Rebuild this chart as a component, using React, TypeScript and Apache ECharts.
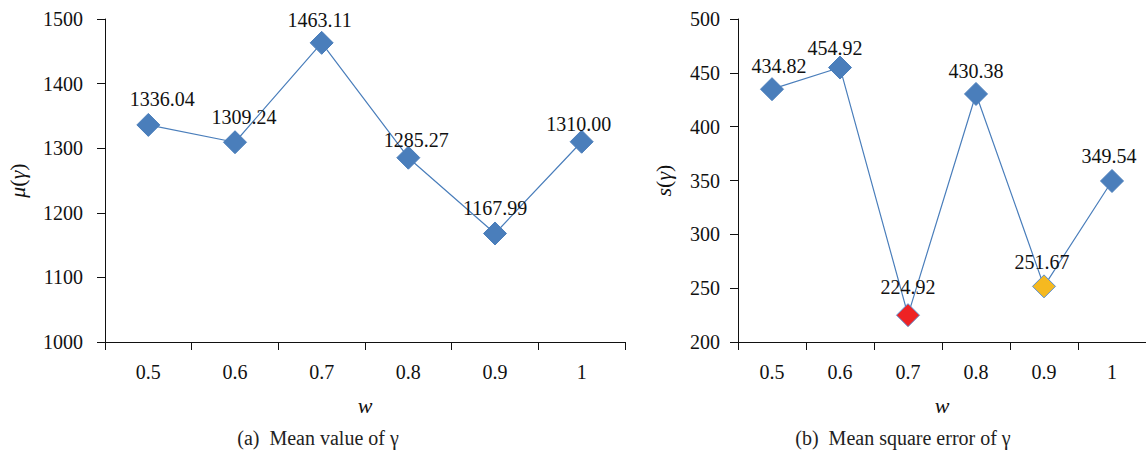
import React, { useEffect, useRef } from "react";
import * as echarts from "echarts";

const categories = ["0.5", "0.6", "0.7", "0.8", "0.9", "1"];
const meanValues = [1336.04, 1309.24, 1463.11, 1285.27, 1167.99, 1310.0];
const mseValues = [434.82, 454.92, 224.92, 430.38, 251.67, 349.54];
const meanTicks = { min: 1000, max: 1500, interval: 100 };
const mseTicks = { min: 200, max: 500, interval: 50 };

// styling: label nudges (dx, height above marker centre) and special marker colours
const meanLabelDx = [14, 9, -2, 8, 0, -3];
const meanLabelUp = [25, 25, 22, 17, 25, 17];
const mseLabelDx = [7, -5, 0, 0, -2, -3];
const mseLabelUp = [23, 19, 28, 22, 24, 24];
const mseColors = ["#4a7ebb", "#4a7ebb", "#ee2224", "#4a7ebb", "#f5b920", "#4a7ebb"];

const FONT = "'Liberation Serif', 'DejaVu Serif', serif";
const BLUE = "#4a7ebb";
const SYM = 23;
const FS = 20;

function buildData(values: number[], dx: number[], up: number[], colors?: string[]) {
  return values.map((v, i) => ({
    value: v,
    itemStyle: {
      color: colors ? colors[i] : BLUE,
      borderColor: colors && colors[i] !== BLUE ? "#5b8fd0" : BLUE,
      borderWidth: 1,
    },
    label: { offset: [dx[i], -(up[i] - 21.5)] },
  }));
}

export default function App() {
  const ref = useRef<HTMLDivElement>(null);
  useEffect(() => {
    if (!ref.current) return;
    const chart = echarts.init(ref.current, null, { renderer: "svg" });
    const axisCommon = {
      axisLine: { show: true, lineStyle: { color: "#111", width: 1 } },
      axisTick: { show: true, length: 8, lineStyle: { color: "#111" } },
      splitLine: { show: false },
    };
    const xAxisCfg = (gridIndex: number) => ({
      type: "category",
      gridIndex,
      data: categories,
      boundaryGap: true,
      ...axisCommon,
      axisLabel: { color: "#111", fontFamily: FONT, fontSize: FS, margin: 20 },
      name: "w",
      nameLocation: "middle",
      nameGap: 52,
      nameTextStyle: { color: "#111", fontFamily: FONT, fontSize: 22, fontStyle: "italic" },
    });
    const yName = (sym: string) => `{i|${sym}}{n|(}{i|γ}{n|)}`;
    const yAxisCfg = (gridIndex: number, t: any, name: string, gap: number, margin: number) => ({
      type: "value",
      gridIndex,
      min: t.min,
      max: t.max,
      interval: t.interval,
      ...axisCommon,
      axisLabel: {
        color: "#111",
        fontFamily: FONT,
        fontSize: FS,
        margin,
        formatter: (v: number) => String(v),
      },
      name,
      nameLocation: "middle",
      nameRotate: 90,
      nameGap: gap,
      nameTextStyle: {
        color: "#111",
        fontFamily: FONT,
        fontSize: 22,
        rich: {
          i: { fontStyle: "italic", fontFamily: FONT, fontSize: 22, color: "#111" },
          n: { fontFamily: FONT, fontSize: 22, color: "#111" },
        },
      },
    });
    const seriesCommon = {
      type: "line",
      symbol: "diamond",
      symbolSize: SYM,
      lineStyle: { color: BLUE, width: 1.2 },
      label: {
        show: true,
        position: "top",
        distance: 0,
        color: "#111",
        fontFamily: FONT,
        fontSize: FS,
        lineHeight: 20,
        formatter: (p: any) => Number(p.value).toFixed(2),
      },
      z: 3,
    };
    chart.setOption({
      animation: false,
      backgroundColor: "#fff",
      grid: [
        { left: 105, top: 19, width: 520, height: 323 },
        { left: 738, top: 19, width: 411, height: 323 },
      ],
      xAxis: [xAxisCfg(0), xAxisCfg(1)],
      yAxis: [
        yAxisCfg(0, meanTicks, yName("μ"), 77, 22),
        yAxisCfg(1, mseTicks, yName("s"), 64, 18),
      ],
      series: [
        { ...seriesCommon, xAxisIndex: 0, yAxisIndex: 0, data: buildData(meanValues, meanLabelDx, meanLabelUp) },
        { ...seriesCommon, xAxisIndex: 1, yAxisIndex: 1, data: buildData(mseValues, mseLabelDx, mseLabelUp, mseColors) },
      ],
      graphic: [
        {
          type: "text",
          x: 318,
          y: 438,
          style: { text: "(a)  Mean value of γ", fontFamily: FONT, fontSize: FS, fill: "#222", align: "center", verticalAlign: "middle" },
        },
        {
          type: "text",
          x: 903,
          y: 438,
          style: { text: "(b)  Mean square error of γ", fontFamily: FONT, fontSize: FS, fill: "#222", align: "center", verticalAlign: "middle" },
        },
      ],
    });
    return () => chart.dispose();
  }, []);
  return (
    <div
      ref={ref}
      style={{ position: "fixed", left: 0, top: 0, width: 1146, height: 455, background: "#fff" }}
    />
  );
}
